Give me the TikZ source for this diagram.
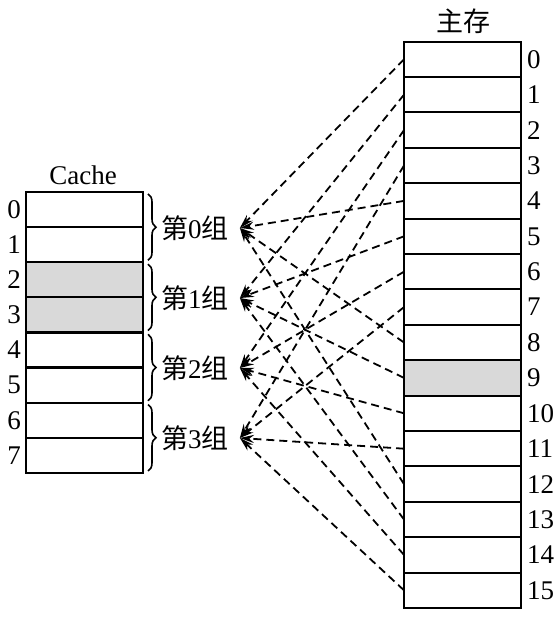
\documentclass[tikz,border=0pt]{standalone}
\usepackage{fontspec}
\setmainfont{Liberation Serif}
\newfontfamily\cjk{Noto Sans CJK SC}
\usetikzlibrary{arrows.meta,positioning,decorations.pathreplacing}

\begin{document}
\begin{tikzpicture}[x=1pt, y=-1pt, >={Stealth[length=14pt,width=8pt]},
  cell/.style={draw, line width=2pt, minimum width=117pt, minimum height=35.3pt, inner sep=0pt, outer sep=0pt},
  hit/.style={cell, fill=gray!30},
  num/.style={font=\fontsize{27}{27}\selectfont, inner sep=0pt},
  grp/.style={font=\fontsize{27}{27}\selectfont, inner sep=0pt, anchor=west},
  brace/.style={decorate, decoration={brace, amplitude=8pt}, line width=1.6pt},
  map/.style={->, dash pattern=on 8pt off 5pt, line width=1.8pt}]
  \useasboundingbox (0,0) rectangle (558,629);

  % Cache lines
  \node[num] (cachetitle) at (83,175) {Cache};
  \foreach \i/\s in {0/cell,1/cell,2/hit,3/hit,4/cell,5/cell,6/cell,7/cell} {
    \node[\s] (c\i) at (84.5,209.6+35.1*\i) {};
    \node[num] at (14,209.6+35.1*\i) {\i};
  }

  % Main memory blocks
  \node[grp, anchor=center] (memtitle) at (463,21) {\cjk 主存};
  \foreach \i/\s in {0/cell,1/cell,2/cell,3/cell,4/cell,5/cell,6/cell,7/cell,8/cell,9/hit,10/cell,11/cell,12/cell,13/cell,14/cell,15/cell} {
    \node[\s] (m\i) at (462.5,59.3+35.4*\i) {};
    \node[num, anchor=west] at (527,59.3+35.4*\i) {\i};
  }

  % Define groups
  \draw[brace] ([xshift=5pt,yshift=-2pt]c0.north east) -- ([xshift=5pt,yshift=2pt]c1.south east);
  \draw[brace] ([xshift=5pt,yshift=-2pt]c2.north east) -- ([xshift=5pt,yshift=2pt]c3.south east);
  \draw[brace] ([xshift=5pt,yshift=-2pt]c4.north east) -- ([xshift=5pt,yshift=2pt]c5.south east);
  \draw[brace] ([xshift=5pt,yshift=-2pt]c6.north east) -- ([xshift=5pt,yshift=2pt]c7.south east);
  \node[grp] (g0) at (161,228) {{\cjk 第}0{\cjk 组}};
  \node[grp] (g1) at (161,298) {{\cjk 第}1{\cjk 组}};
  \node[grp] (g2) at (161,368) {{\cjk 第}2{\cjk 组}};
  \node[grp] (g3) at (161,438) {{\cjk 第}3{\cjk 组}};
  \coordinate[right=11pt of g0] (t0);
  \coordinate[right=11pt of g1] (t1);
  \coordinate[right=11pt of g2] (t2);
  \coordinate[right=11pt of g3] (t3);

  % Define mappings
  \path[map]
  (m0.west) edge (t0)
  (m1.west) edge (t1)
  (m2.west) edge (t2)
  (m3.west) edge (t3)
  (m4.west) edge (t0)
  (m5.west) edge (t1)
  (m6.west) edge (t2)
  (m7.west) edge (t3)
  (m8.west) edge (t0)
  (m9.west) edge (t1)
  (m10.west) edge (t2)
  (m11.west) edge (t3)
  (m12.west) edge (t0)
  (m13.west) edge (t1)
  (m14.west) edge (t2)
  (m15.west) edge (t3);
\end{tikzpicture}
\end{document}
